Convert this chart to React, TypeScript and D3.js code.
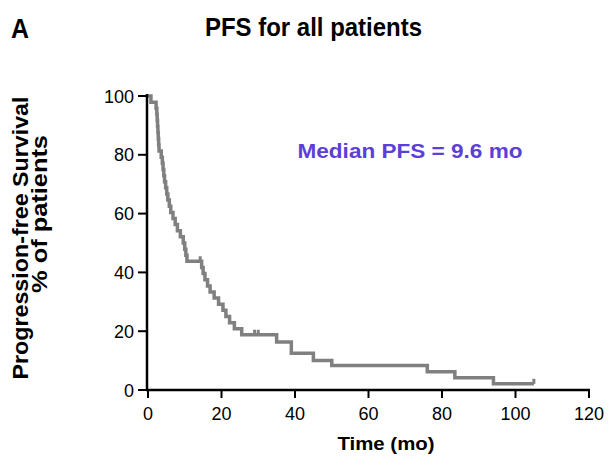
import React from "react";
import * as d3 from "d3";

const eventTimes = [0, 0.8, 2.2, 2.4, 2.5, 2.6, 2.7, 2.8, 2.9, 3.0, 3.6, 3.9, 4.1, 4.3, 4.5, 4.8, 5.1, 5.4, 5.8, 6.2, 6.8, 7.4, 8.0, 8.8, 9.6, 10.0, 10.3, 10.6, 14.6, 15.0, 15.5, 16.2, 16.9, 18.0, 19.2, 20.4, 21.2, 22.2, 23.5, 25.5, 35.0, 39.0, 45.0, 50.0, 76.0, 83.5, 94.0, 105.0];
const survival = [100, 97.9, 95.8, 93.8, 91.7, 89.6, 87.5, 85.4, 83.3, 81.3, 79.2, 77.1, 75.0, 72.9, 70.8, 68.8, 66.7, 64.6, 62.5, 60.4, 58.3, 56.3, 54.2, 52.1, 50.0, 47.9, 45.8, 43.8, 41.7, 39.6, 37.5, 35.4, 33.3, 31.3, 29.2, 27.1, 25.0, 22.9, 20.8, 18.8, 16.3, 12.5, 10.0, 8.3, 6.2, 4.2, 2.1, 2.1];
const censorTimes = [14.2, 29.0, 30.0, 105.0];
const censorValues = [43.8, 18.8, 18.8, 2.1];
const xTicks = [0, 20, 40, 60, 80, 100, 120];
const yTicks = [0, 20, 40, 60, 80, 100];

export default function App() {
  const x = d3.scaleLinear().domain([0, 120]).range([148, 589]);
  const y = d3.scaleLinear().domain([0, 100]).range([390, 96]);
  const pts = eventTimes.map((t, i) => [t, survival[i]] as [number, number]);
  const line = d3
    .line<[number, number]>()
    .x((d) => x(d[0]))
    .y((d) => y(d[1]))
    .curve(d3.curveStepAfter);
  const font = "'Liberation Sans', Arial, sans-serif";
  return (
    <svg width={612} height={456} style={{ position: "absolute", left: 0, top: 0, background: "#fff" }} fontFamily={font}>
      <rect x={0} y={0} width={612} height={456} fill="#fff" />
      <text x={11} y={38} fontSize={27} fontWeight="bold" textLength={18} lengthAdjust="spacingAndGlyphs" fill="#000">A</text>
      <text x={313.5} y={36} fontSize={25} fontWeight="bold" textAnchor="middle" textLength={217} lengthAdjust="spacingAndGlyphs" fill="#000">PFS for all patients</text>
      <text transform="translate(28,238) rotate(-90)" fontSize={22} fontWeight="bold" textAnchor="middle" textLength={283} lengthAdjust="spacingAndGlyphs" fill="#000">Progression-free Survival</text>
      <text transform="translate(47,214) rotate(-90)" fontSize={22} fontWeight="bold" textAnchor="middle" textLength={158} lengthAdjust="spacingAndGlyphs" fill="#000">% of patients</text>
      <path d={line(pts) || ""} fill="none" stroke="#808080" strokeWidth={3.5} />
      {censorTimes.map((t, i) => (
        <line key={i} x1={x(t)} x2={x(t)} y1={y(censorValues[i])} y2={y(censorValues[i]) - 5} stroke="#808080" strokeWidth={3} />
      ))}
      <line x1={147} x2={147} y1={94} y2={391} stroke="#000" strokeWidth={2.5} />
      <line x1={146} x2={590} y1={390} y2={390} stroke="#000" strokeWidth={2.5} />
      {yTicks.map((v) => (
        <g key={v}>
          <line x1={138} x2={147} y1={y(v)} y2={y(v)} stroke="#000" strokeWidth={2} />
          <text x={134} y={y(v) + 6.5} fontSize={18} textAnchor="end" fill="#000">{v}</text>
        </g>
      ))}
      {xTicks.map((v) => (
        <g key={v}>
          <line x1={x(v)} x2={x(v)} y1={390} y2={398} stroke="#000" strokeWidth={2} />
          <text x={x(v)} y={420} fontSize={18} textAnchor="middle" fill="#000">{v}</text>
        </g>
      ))}
      <text x={386} y={450} fontSize={19} fontWeight="bold" textAnchor="middle" textLength={97} lengthAdjust="spacingAndGlyphs" fill="#000">Time (mo)</text>
      <text x={410} y={158} fontSize={21} fontWeight="bold" textAnchor="middle" textLength={225} lengthAdjust="spacingAndGlyphs" fill="#5b3fd6">Median PFS = 9.6 mo</text>
    </svg>
  );
}
